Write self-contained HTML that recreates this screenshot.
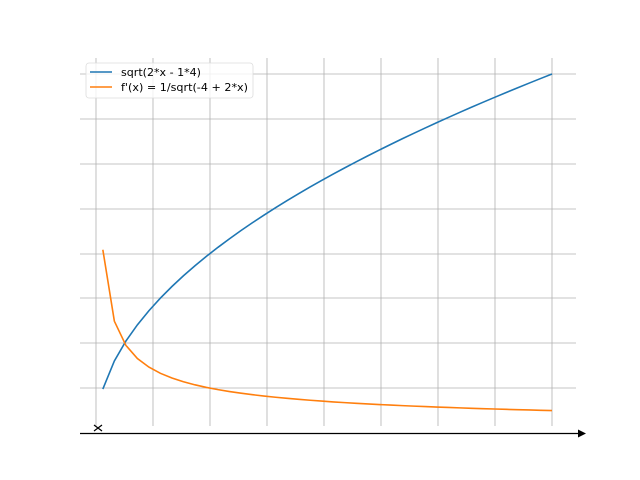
<!DOCTYPE html><html><head><style>body{margin:0;background:#fff}svg{display:block}</style></head><body>
<svg id="s" width="640" height="480" xmlns="http://www.w3.org/2000/svg" font-family="DejaVu Sans, Liberation Sans, sans-serif">
<g stroke="#b0b0b0" stroke-width="0.8">
<line x1="96" y1="58" x2="96" y2="426"/><line x1="153" y1="58" x2="153" y2="426"/><line x1="210" y1="58" x2="210" y2="426"/><line x1="267" y1="58" x2="267" y2="426"/><line x1="324" y1="58" x2="324" y2="426"/><line x1="381" y1="58" x2="381" y2="426"/><line x1="438" y1="58" x2="438" y2="426"/><line x1="495" y1="58" x2="495" y2="426"/><line x1="552" y1="58" x2="552" y2="426"/>
<line x1="80" y1="74" x2="576" y2="74"/><line x1="80" y1="119" x2="576" y2="119"/><line x1="80" y1="164" x2="576" y2="164"/><line x1="80" y1="209" x2="576" y2="209"/><line x1="80" y1="254" x2="576" y2="254"/><line x1="80" y1="298" x2="576" y2="298"/><line x1="80" y1="343" x2="576" y2="343"/><line x1="80" y1="388" x2="576" y2="388"/>
</g>
<line x1="80" y1="433.5" x2="582" y2="433.5" stroke="#000" stroke-width="1.2"/>
<path d="M578 429.5 L586 433.5 L578 437.5 Z" fill="#000"/>
<path d="M94 425 L102 431 M94 431 L102 425" stroke="#000" stroke-width="1.2"/>
<path id="b" fill="none" stroke="#1f77b4" stroke-width="1.6"/>
<path id="o" fill="none" stroke="#ff7f0e" stroke-width="1.6"/>
<rect x="86" y="63" width="167" height="35" rx="3" fill="#fff" fill-opacity="0.8" stroke="#ddd" stroke-width="0.8"/>
<line x1="90" y1="72" x2="112" y2="72" stroke="#1f77b4" stroke-width="1.6"/>
<line x1="90" y1="87" x2="112" y2="87" stroke="#ff7f0e" stroke-width="1.6"/>
<text x="121" y="76" font-size="11" textLength="80" lengthAdjust="spacingAndGlyphs">sqrt(2*x - 1*4)</text>
<text x="121" y="91" font-size="11" textLength="127" lengthAdjust="spacingAndGlyphs">f'(x) = 1/sqrt(-4 + 2*x)</text>
</svg>
<script>
var b="",o="";
for(var i=0;i<40;i++){var x=2.12+i*7.88/39;var px=96+(x-2)*57;var v=Math.sqrt(2*x-4);
b+=(i?"L":"M")+px.toFixed(2)+" "+(74+(4-v)*89.75).toFixed(2);
o+=(i?"L":"M")+px.toFixed(2)+" "+(74+(4-1/v)*89.75).toFixed(2);}
document.getElementById("b").setAttribute("d",b);document.getElementById("o").setAttribute("d",o);
</script>
</body></html>
